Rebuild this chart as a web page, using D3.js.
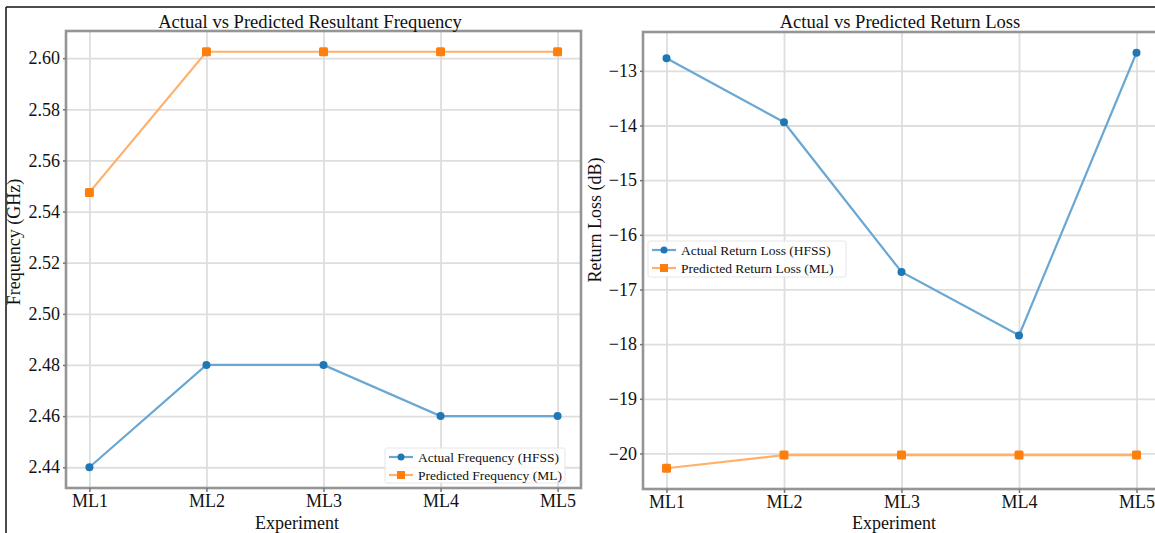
<!DOCTYPE html>
<html><head><meta charset="utf-8">
<script src="https://cdn.jsdelivr.net/npm/d3@7"></script>
<style>
body{margin:0;background:#fff;}
svg{display:block;}
text{font-family:"Liberation Serif","Times New Roman",serif;fill:#111;}
</style></head>
<body><svg id="c" width="1155" height="533"></svg>
<script>
const experiments = ["ML1","ML2","ML3","ML4","ML5"];
const freqActual = [2.44, 2.48, 2.48, 2.46, 2.46];
const freqPredicted = [2.5475, 2.6025, 2.6025, 2.6025, 2.6025];
const rlActual = [-12.77, -13.94, -16.68, -17.84, -12.67];
const rlPredicted = [-20.27, -20.03, -20.03, -20.03, -20.03];
const freqTicks = [2.44, 2.46, 2.48, 2.50, 2.52, 2.54, 2.56, 2.58, 2.60];
const rlTicks = [-20, -19, -18, -17, -16, -15, -14, -13];

const svg = d3.select("#c");
const BLUE = "#1f77b4", BLUE_L = "#6aa7d3", ORANGE = "#ff7f0e", ORANGE_L = "#ffb06a";

// outer frame
svg.append("line").attr("x1",6).attr("x2",6).attr("y1",7).attr("y2",533).attr("stroke","#111").attr("stroke-width",1.5);
svg.append("line").attr("x1",6).attr("x2",1155).attr("y1",7).attr("y2",7).attr("stroke","#111").attr("stroke-width",1.5);

function panel(cfg){
  const x = d3.scalePoint().domain(experiments).range([cfg.x0, cfg.x1]).padding(0.2);
  const all = cfg.series.flatMap(s=>s.values);
  const mn = d3.min(all), mx = d3.max(all), pad = (mx-mn)*0.05;
  const y = d3.scaleLinear().domain([mn-pad, mx+pad]).range([cfg.y1, cfg.y0]);
  const g = svg.append("g");
  // grid
  g.append("g").attr("transform",`translate(0,${cfg.y1})`)
    .call(d3.axisBottom(x).tickSize(-(cfg.y1-cfg.y0)).tickFormat(""))
    .call(a=>a.select(".domain").remove())
    .call(a=>a.selectAll("line").attr("stroke","#dedede").attr("stroke-width",1.8));
  g.append("g").attr("transform",`translate(${cfg.x0},0)`)
    .call(d3.axisLeft(y).tickValues(cfg.ticks).tickSize(-(cfg.x1-cfg.x0)).tickFormat(""))
    .call(a=>a.select(".domain").remove())
    .call(a=>a.selectAll("line").attr("stroke","#dedede").attr("stroke-width",1.8));
  // frame
  g.append("rect").attr("x",cfg.x0).attr("y",cfg.y0).attr("width",cfg.x1-cfg.x0).attr("height",cfg.y1-cfg.y0)
    .attr("fill","none").attr("stroke","#959595").attr("stroke-width",2.6);
  // axes
  const ax = g.append("g").attr("transform",`translate(0,${cfg.y1})`)
    .call(d3.axisBottom(x).tickSize(4).tickPadding(2));
  ax.select(".domain").remove();
  ax.selectAll("line").attr("stroke","#777").attr("stroke-width",1.5);
  ax.selectAll("text").attr("font-size",18).attr("font-family","Liberation Serif").attr("fill","#111");
  const ay = g.append("g").attr("transform",`translate(${cfg.x0},0)`)
    .call(d3.axisLeft(y).tickValues(cfg.ticks).tickFormat(cfg.fmt).tickSize(3).tickPadding(3));
  ay.select(".domain").remove();
  ay.selectAll("line").attr("stroke","#777").attr("stroke-width",1.5);
  ay.selectAll("text").attr("font-size",18).attr("font-family","Liberation Serif").attr("fill","#111");
  // series
  cfg.series.forEach(s=>{
    const line = d3.line().x((d,i)=>x(experiments[i])).y(d=>y(d));
    g.append("path").datum(s.values).attr("d",line).attr("fill","none")
      .attr("stroke",s.light).attr("stroke-width",2.2);
    if(s.shape==="circle"){
      g.selectAll(null).data(s.values).enter().append("circle")
        .attr("cx",(d,i)=>x(experiments[i])).attr("cy",d=>y(d)).attr("r",4).attr("fill",s.color);
    } else {
      g.selectAll(null).data(s.values).enter().append("rect")
        .attr("x",(d,i)=>x(experiments[i])-4.5).attr("y",d=>y(d)-4.5).attr("width",9).attr("height",9)
        .attr("rx",1.5).attr("fill",s.color);
    }
  });
  // title & labels
  svg.append("text").attr("x",cfg.titleX).attr("y",28).attr("text-anchor","middle").attr("font-size",18.6).text(cfg.title);
  svg.append("text").attr("x",cfg.xlabX).attr("y",529).attr("text-anchor","middle").attr("font-size",18).text("Experiment");
  svg.append("text").attr("transform",`translate(${cfg.ylabX},${cfg.ylabY}) rotate(-90)`).attr("text-anchor","middle")
    .attr("font-size",18).text(cfg.ylabel);
  // legend
  const L = cfg.legend;
  svg.append("rect").attr("x",L.x).attr("y",L.y).attr("width",L.w).attr("height",L.h)
    .attr("fill","#fff").attr("fill-opacity",0.85).attr("stroke","#e6e6e6").attr("stroke-width",1).attr("rx",2);
  cfg.series.forEach((s,i)=>{
    const cy = L.y + L.first + i*L.gap;
    svg.append("line").attr("x1",L.x+4).attr("x2",L.x+28).attr("y1",cy).attr("y2",cy).attr("stroke",s.light).attr("stroke-width",2.2);
    if(s.shape==="circle") svg.append("circle").attr("cx",L.x+16).attr("cy",cy).attr("r",3.5).attr("fill",s.color);
    else svg.append("rect").attr("x",L.x+12).attr("y",cy-4).attr("width",8).attr("height",8).attr("fill",s.color);
    svg.append("text").attr("x",L.x+33).attr("y",cy+4.5).attr("font-size",13.5).text(s.name);
  });
}

panel({x0:66,x1:581,y0:31,y1:488,ticks:freqTicks,fmt:d3.format(".2f"),
  title:"Actual vs Predicted Resultant Frequency",titleX:310,xlabX:297,ylabX:20,ylabY:242,ylabel:"Frequency (GHz)",
  series:[{name:"Actual Frequency (HFSS)",values:freqActual,color:BLUE,light:BLUE_L,shape:"circle"},
          {name:"Predicted Frequency (ML)",values:freqPredicted,color:ORANGE,light:ORANGE_L,shape:"square"}],
  legend:{x:385,y:448,w:180,h:35,first:9,gap:18}});

panel({x0:643,x1:1160,y0:32,y1:489,ticks:rlTicks,fmt:d3.format("d"),
  title:"Actual vs Predicted Return Loss",titleX:900,xlabX:894,ylabX:601,ylabY:220,ylabel:"Return Loss (dB)",
  series:[{name:"Actual Return Loss (HFSS)",values:rlActual,color:BLUE,light:BLUE_L,shape:"circle"},
          {name:"Predicted Return Loss (ML)",values:rlPredicted,color:ORANGE,light:ORANGE_L,shape:"square"}],
  legend:{x:648,y:241,w:198,h:36,first:9,gap:18}});
</script></body></html>
